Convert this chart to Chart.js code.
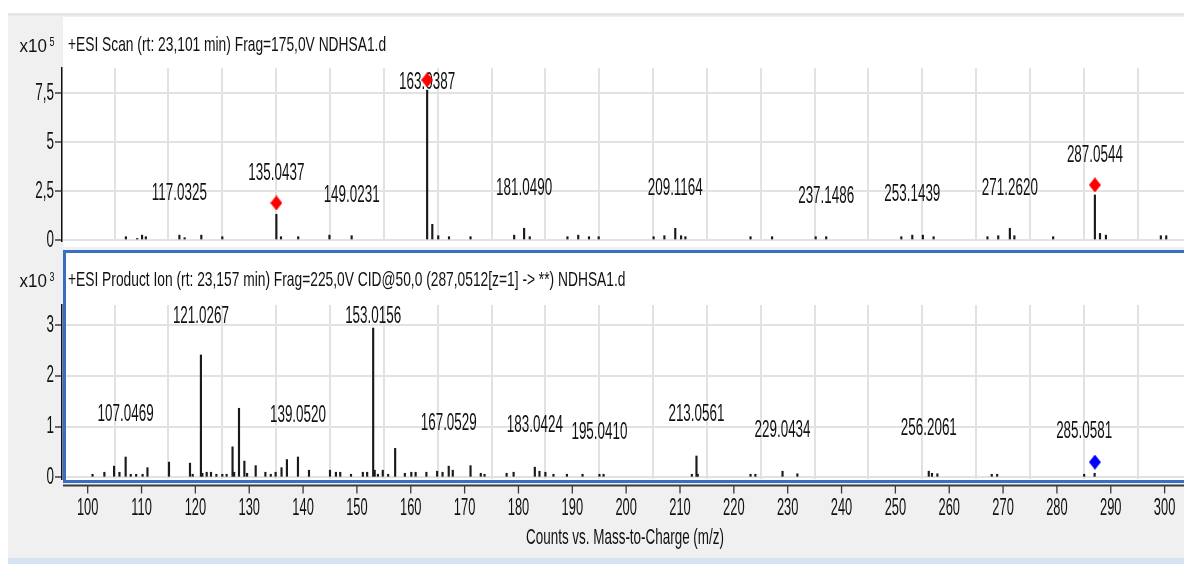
<!DOCTYPE html>
<html>
<head>
<meta charset="utf-8">
<script src="https://cdn.jsdelivr.net/npm/chart.js@4.4.0/dist/chart.umd.min.js"></script>
<style>
    html, body { margin: 0; padding: 0; background: #fff; }
    #wrap { position: relative; width: 1184px; height: 564px; overflow: hidden; }
    #bg { position: absolute; left: 8px; top: 13px; width: 1176px; height: 545px; background: #f0f0f0; border-top: 3px solid #e6e6e6; box-sizing: border-box; }
    #band { position: absolute; left: 8px; top: 558px; width: 1176px; height: 6px; background: #d5e3f3; }
    canvas { position: absolute; left: 0; top: 0; }
</style>
</head>
<body>
<div id="wrap">
    <div id="bg"></div>
    <div id="band"></div>
    <canvas id="topChart" width="1184" height="564"></canvas>
    <canvas id="botChart" width="1184" height="564"></canvas>
</div>
<script>
// ---- data: MS scan (x10^5) ----
const topMz = [107.1, 109.2, 110.1, 110.8, 117.03, 118.0, 121.1, 125.0, 135.04, 135.9, 139.1, 144.9, 149.02,
    163.04, 164.0, 165.1, 167.1, 171.1, 179.2, 181.05, 182.1, 189.1, 191.1, 193.1, 194.9, 205.1, 207.1, 209.12,
    210.2, 211.0, 223.1, 227.1, 235.2, 237.15, 251.1, 253.14, 255.1, 257.1, 267.1, 269.1, 271.26, 272.1, 279.3,
    287.05, 288.0, 289.1, 299.3, 300.3];
const topCounts = [0.17, 0.08, 0.25, 0.17, 0.25, 0.12, 0.25, 0.17, 1.31, 0.17, 0.17, 0.25, 0.22,
    7.65, 0.8, 0.22, 0.17, 0.17, 0.25, 0.6, 0.17, 0.17, 0.25, 0.17, 0.17, 0.17, 0.22, 0.6,
    0.22, 0.17, 0.17, 0.17, 0.17, 0.17, 0.17, 0.25, 0.25, 0.17, 0.17, 0.22, 0.6, 0.22, 0.17,
    2.3, 0.34, 0.25, 0.22, 0.22];
const topMarkMz = [135.04, 163.04, 287.05];
const topMarkY = [1.89, 8.17, 2.81];
const topLabels = ['117.0325', '135.0437', '149.0231', '163.0387', '181.0490', '209.1164', '237.1486', '253.1439', '271.2620', '287.0544'];
const topLabelMz = [117.0325, 135.0437, 149.0231, 163.0387, 181.0490, 209.1164, 237.1486, 253.1439, 271.2620, 287.0544];
const topLabelY = [2.40, 3.42, 2.30, 8.06, 2.65, 2.65, 2.24, 2.35, 2.65, 4.34];

// ---- data: product ion scan (x10^3) ----
const botMz = [100.9, 103.1, 104.9, 105.9, 107.05, 108.0, 109.0, 110.2, 111.1, 115.1, 119.0, 119.5, 121.03, 121.3,
    122.1, 122.9, 123.9, 125.0, 125.8, 126.9, 127.2, 128.1, 129.1, 129.6, 131.2, 133.0, 134.0, 134.9, 136.0, 137.0,
    139.05, 141.1, 145.0, 146.1, 146.9, 148.9, 151.1, 151.9, 153.02, 153.3, 153.9, 154.8, 155.8, 157.1, 158.9, 160.1,
    160.9, 162.9, 164.9, 165.9, 167.05, 167.8, 171.1, 173.0, 173.7, 177.8, 179.1, 183.04, 183.9, 185.0, 186.5, 189.0,
    191.9, 195.04, 195.8, 212.2, 213.06, 213.3, 223.1, 224.0, 229.04, 231.8, 256.2, 256.8, 257.8, 267.9, 268.9,
    285.06, 287.0];
const botCounts = [0.06, 0.1, 0.22, 0.1, 0.4, 0.06, 0.06, 0.06, 0.19, 0.3, 0.28, 0.06, 2.41, 0.08,
    0.1, 0.1, 0.06, 0.06, 0.06, 0.6, 0.1, 1.36, 0.32, 0.08, 0.23, 0.1, 0.06, 0.1, 0.19, 0.35,
    0.4, 0.14, 0.14, 0.1, 0.1, 0.06, 0.1, 0.1, 2.94, 0.14, 0.06, 0.14, 0.06, 0.57, 0.08, 0.1,
    0.1, 0.1, 0.12, 0.1, 0.22, 0.14, 0.23, 0.08, 0.06, 0.08, 0.1, 0.2, 0.12, 0.1, 0.06, 0.06,
    0.06, 0.06, 0.06, 0.06, 0.42, 0.06, 0.06, 0.06, 0.12, 0.07, 0.12, 0.08, 0.07, 0.06, 0.06,
    0.06, 0.08];
const botMarkMz = [287.05];
const botMarkY = [0.30];
const botLabels = ['107.0469', '121.0267', '139.0520', '153.0156', '167.0529', '183.0424', '195.0410', '213.0561', '229.0434', '256.2061', '285.0581'];
const botLabelMz = [107.0469, 121.0267, 139.0520, 153.0156, 167.0529, 183.0424, 195.0410, 213.0561, 229.0434, 256.2061, 285.0581];
const botLabelY = [1.23, 3.16, 1.21, 3.16, 1.06, 1.03, 0.89, 1.23, 0.93, 0.97, 0.90];

const topTitle = '+ESI Scan (rt: 23,101 min) Frag=175,0V NDHSA1.d';
const botTitle = '+ESI Product Ion (rt: 23,157 min) Frag=225,0V CID@50,0 (287,0512[z=1] -> **) NDHSA1.d';
const xTitle = 'Counts vs. Mass-to-Charge (m/z)';

const FONT = '"Liberation Sans", Arial, sans-serif';

// tall, narrow text like the instrument software
function stretchText(ctx, text, x, y, opt) {
    opt = opt || {};
    ctx.save();
    ctx.translate(x, y);
    ctx.scale(opt.sx || 0.96, opt.sy || 1.7);
    ctx.font = (opt.size || 14) + 'px ' + FONT;
    ctx.textAlign = opt.align || 'center';
    ctx.textBaseline = 'middle';
    ctx.fillStyle = '#111';
    ctx.fillText(text, 0, 0);
    ctx.restore();
}

function diamond(color) {
    const c = document.createElement('canvas');
    c.width = 12; c.height = 15;
    const g = c.getContext('2d');
    g.fillStyle = color;
    g.beginPath();
    g.moveTo(6, 0); g.lineTo(12, 7.5); g.lineTo(6, 15); g.lineTo(0, 7.5);
    g.closePath();
    g.fill();
    return c;
}

function toPoints(xs, ys) {
    return xs.map((x, i) => ({ x: x, y: ys[i] }));
}

function makePlugin(cfg) {
    return {
        id: 'spectrum',
        beforeDraw(chart) {
            const ctx = chart.ctx, a = chart.chartArea;
            ctx.save();
            ctx.fillStyle = '#fff';
            ctx.fillRect(a.left + 1, cfg.panelTop, chart.width, cfg.panelBottom - cfg.panelTop);
            ctx.restore();
        },
        beforeDatasetsDraw(chart) {
            const ctx = chart.ctx, xs = chart.scales.x, ys = chart.scales.y;
            stretchText(ctx, cfg.title, 68, cfg.titleY, { align: 'left', sx: 0.985, sy: 1.5 });
            stretchText(ctx, 'x10', 47, cfg.titleY + 2, { align: 'right', size: 17, sx: 1, sy: 1.1 });
            stretchText(ctx, cfg.exp, 49.5, cfg.titleY - 3, { align: 'left', size: 10, sx: 0.9, sy: 1.3 });
            ys.ticks.forEach(t => {
                stretchText(ctx, String(t.value).replace('.', ','), 54, ys.getPixelForValue(t.value), { align: 'right' });
            });
            cfg.labels.forEach((txt, i) => {
                stretchText(ctx, txt, xs.getPixelForValue(cfg.labelMz[i]), ys.getPixelForValue(cfg.labelY[i]));
            });
        },
        afterDraw(chart) {
            if (!cfg.frame) return;
            const ctx = chart.ctx, xs = chart.scales.x, a = chart.chartArea;
            ctx.save();
            // selected panel frame
            ctx.strokeStyle = '#3a6dc4';
            ctx.lineWidth = 3;
            ctx.strokeRect(a.left + 2.5, cfg.panelTop + 1.5, chart.width, cfg.panelBottom - cfg.panelTop - 2);
            // x axis below the panel
            const y0 = 485.5;
            ctx.strokeStyle = '#3a3a3a';
            ctx.lineWidth = 2;
            ctx.beginPath();
            ctx.moveTo(a.left + 1, y0);
            ctx.lineTo(chart.width, y0);
            ctx.stroke();
            ctx.lineWidth = 1.3;
            xs.ticks.forEach(t => {
                const px = xs.getPixelForValue(t.value);
                ctx.beginPath();
                ctx.moveTo(px, y0);
                ctx.lineTo(px, y0 + 8);
                ctx.stroke();
                stretchText(ctx, String(t.value), px, 508, { sx: 0.92, sy: 1.75 });
            });
            ctx.restore();
            stretchText(ctx, xTitle, (a.left + a.right) / 2 + 2, 538, { sy: 1.6 });
        }
    };
}

function makeChart(canvasId, d) {
    return new Chart(document.getElementById(canvasId), {
        type: 'bar',
        data: {
            datasets: [
                {
                    type: 'scatter',
                    data: toPoints(d.markMz, d.markY),
                    pointStyle: diamond(d.markColor),
                    pointRadius: 6
                },
                {
                    data: toPoints(d.mz, d.counts),
                    backgroundColor: '#1a1a1a',
                    barThickness: 1.5
                }
            ]
        },
        options: {
            responsive: false,
            animation: false,
            devicePixelRatio: 1,
            events: [],
            layout: { autoPadding: false, padding: { left: 0, right: 0, top: d.top, bottom: 564 - d.bottom } },
            plugins: { legend: { display: false }, tooltip: { enabled: false } },
            scales: {
                x: {
                    type: 'linear',
                    offset: false,
                    min: 95.23,
                    max: 303.6,
                    ticks: { stepSize: 10, display: false, includeBounds: false },
                    grid: { color: '#e2e2e2', lineWidth: 2, drawTicks: false },
                    border: { display: false },
                    afterFit: s => { s.height = 0; }
                },
                y: {
                    min: d.ymin,
                    max: d.ymax,
                    ticks: { stepSize: d.step, display: false, includeBounds: false },
                    grid: { color: '#e2e2e2', lineWidth: 2, tickLength: 7, tickColor: '#222', tickWidth: 1.3 },
                    border: { display: true, color: '#111', width: 1.5 },
                    afterFit: s => { s.width = 62; }
                }
            }
        },
        plugins: [makePlugin(d)]
    });
}

makeChart('topChart', {
    mz: topMz, counts: topCounts, markMz: topMarkMz, markY: topMarkY, markColor: '#ff0000',
    labels: topLabels, labelMz: topLabelMz, labelY: topLabelY,
    title: topTitle, exp: '5', titleY: 45,
    top: 68, bottom: 241, ymin: -0.05, ymax: 8.78, step: 2.5,
    panelTop: 17, panelBottom: 247, frame: false
});

makeChart('botChart', {
    mz: botMz, counts: botCounts, markMz: botMarkMz, markY: botMarkY, markColor: '#0000ff',
    labels: botLabels, labelMz: botLabelMz, labelY: botLabelY,
    title: botTitle, exp: '3', titleY: 280,
    top: 305, bottom: 479, ymin: -0.033, ymax: 3.394, step: 1,
    panelTop: 250, panelBottom: 482, frame: true
});
</script>
</body>
</html>
